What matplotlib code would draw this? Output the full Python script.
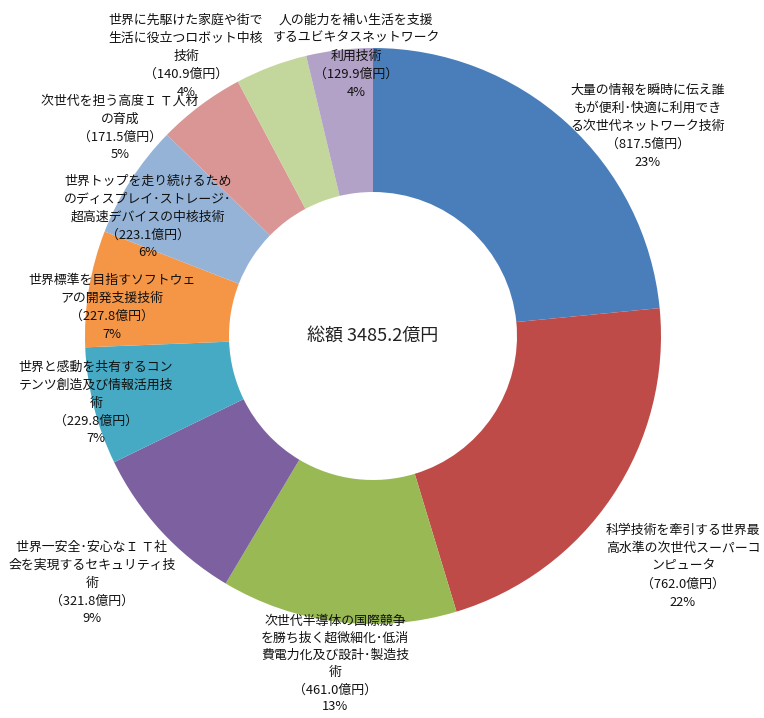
import matplotlib
matplotlib.use("Agg")
import matplotlib.pyplot as plt

plt.rcParams['font.family'] = ['Noto Sans CJK JP', 'DejaVu Sans']

# ---- data ----
categories = [
    "大量の情報を瞬時に伝え誰\nもが便利･快適に利用でき\nる次世代ネットワーク技術",
    "科学技術を牽引する世界最\n高水準の次世代スーパーコ\nンピュータ",
    "次世代半導体の国際競争\nを勝ち抜く超微細化･低消\n費電力化及び設計･製造技\n術",
    "世界一安全･安心なＩ Ｔ社\n会を実現するセキュリティ技\n術",
    "世界と感動を共有するコン\nテンツ創造及び情報活用技\n術",
    "世界標準を目指すソフトウェ\nアの開発支援技術",
    "世界トップを走り続けるため\nのディスプレイ･ストレージ･\n超高速デバイスの中核技術",
    "次世代を担う高度Ｉ Ｔ人材\nの育成",
    "世界に先駆けた家庭や街で\n生活に役立つロボット中核\n技術",
    "人の能力を補い生活を支援\nするユビキタスネットワーク\n利用技術",
]
values = [817.5, 762.0, 461.0, 321.8, 229.8, 227.8, 223.1, 171.5, 140.9, 129.9]
percents = [23, 22, 13, 9, 7, 7, 6, 5, 4, 4]
total_label = "総額 3485.2億円"

# ---- style ----
colors = ["#4A7EBB", "#BE4B48", "#98B954", "#7D60A0", "#46AAC5",
          "#F59647", "#95B3D7", "#D99694", "#C3D69B", "#B3A2C7"]
# label block centres in pixel coordinates (layout)
label_pos = [(648, 126), (683, 566), (335, 664), (92, 583), (96, 403),
             (112, 307), (148, 217), (120, 128), (186, 56), (356, 56)]

W, H = 764, 718
fig = plt.figure(figsize=(W / 100, H / 100), dpi=100)
ax = fig.add_axes([0, 0, 1, 1])

cx, cy, R = 373, -336, 288
ax.pie(values, colors=colors, startangle=90, counterclock=False,
       center=(cx, cy), radius=R,
       wedgeprops=dict(width=R * 0.5, edgecolor='none', linewidth=0))

ax.set_xlim(0, W)
ax.set_ylim(-H, 0)
ax.set_aspect('equal')
ax.axis('off')

for i, (cat, v, p, (lx, ly)) in enumerate(zip(categories, values, percents, label_pos)):
    txt = f"{cat}\n（{v:.1f}億円）\n{p}%"
    ax.text(lx, -ly, txt, ha='center', va='center', fontsize=9.3,
            color='#111111', linespacing=1.42 if i == 2 else 1.5)

ax.text(cx, cy, total_label, ha='center', va='center', fontsize=13,
        color='#222222')

fig.savefig("out.png", dpi=100)
